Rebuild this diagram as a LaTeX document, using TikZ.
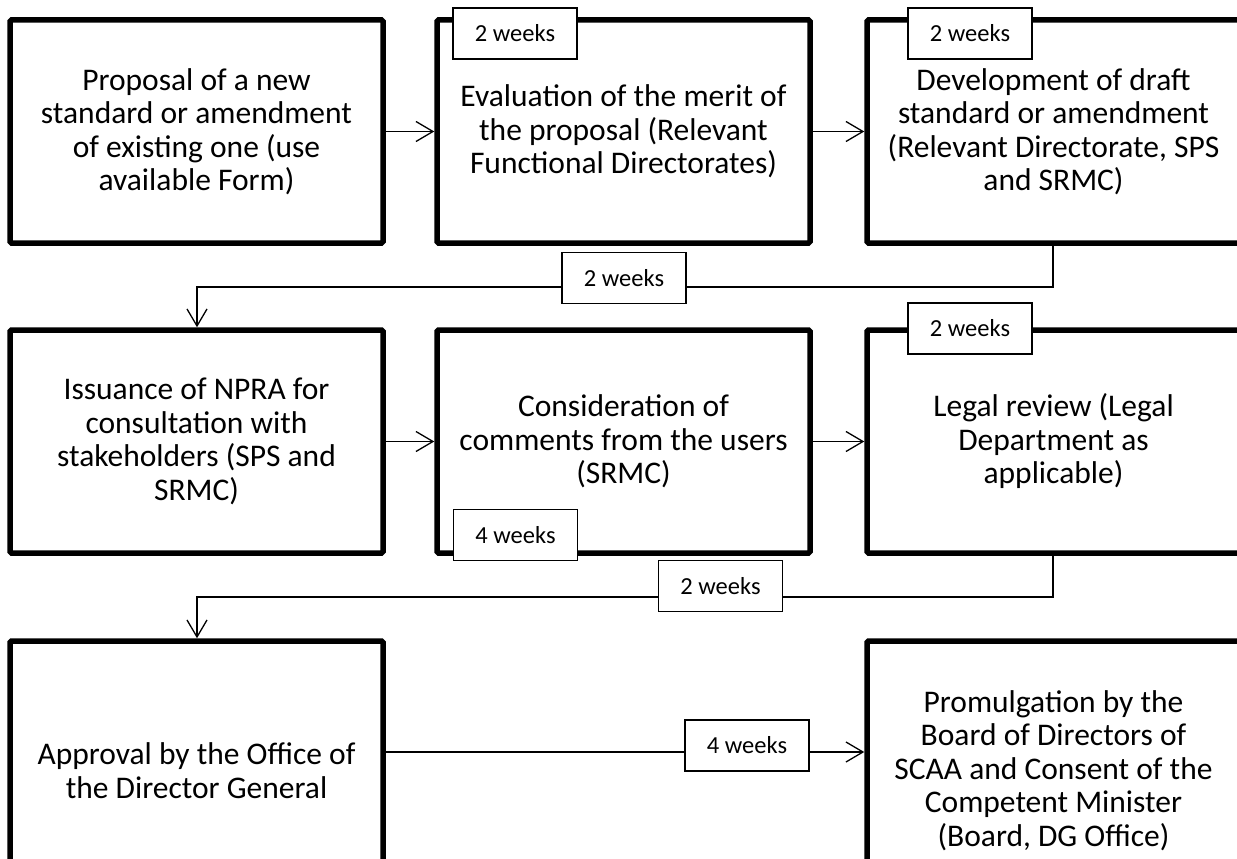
\documentclass[tikz,border=0pt]{standalone}
\usepackage{fontspec}
\setmainfont{Carlito}
\usetikzlibrary{arrows.meta}
\begin{document}
\begin{tikzpicture}[x=1pt,y=-1pt,
  stage/.style={draw, line width=5.5pt, minimum width=373pt, minimum height=223pt,
    inner sep=0pt, align=center, rounded corners=1.5pt,
    font=\fontsize{31.5}{33.5}\selectfont},
  tall/.style={stage, minimum height=259pt},
  conn/.style={line width=1.3pt},
  arr/.style={conn, -{Straight Barb[length=17pt,width=20pt]}},
  timer/.style={draw, fill=white, line width=1.3pt, minimum width=124pt,
    minimum height=51pt, inner sep=0pt, font=\fontsize{24.5}{28}\selectfont}
]
\useasboundingbox (0,0) rectangle (1237,859);

% stage boxes
\node[stage] (b1) at (196.5,131.5) {Proposal of a new\\standard or amendment\\of existing one (use\\available Form)};
\node[stage] (b2) at (623.5,131.5) {Evaluation of the merit of\\the proposal (Relevant\\Functional Directorates)};
\node[stage] (b3) at (1053.5,131.5) {Development of draft\\standard or amendment\\(Relevant Directorate, SPS\\and SRMC)};
\node[stage] (b4) at (196.5,441.5) {Issuance of NPRA for\\consultation with\\stakeholders (SPS and\\SRMC)};
\node[stage] (b5) at (623.5,441.5) {Consideration of\\comments from the users\\(SRMC)};
\node[stage] (b6) at (1053.5,441.5) {Legal review (Legal\\Department as\\applicable)};
\node[tall] (b7) at (196.5,770.5) {Approval by the Office of\\the Director General};
\node[tall] (b8) at (1053.5,770.5) {Promulgation by the\\Board of Directors of\\SCAA and Consent of the\\Competent Minister\\(Board, DG Office)};

% connectors
\draw[arr] (b1.east) -- (b2.west);
\draw[arr] (b2.east) -- (b3.west);
\coordinate (k1) at (1053,287);
\coordinate (k2) at (197,287);
\draw[arr] (b3.south -| k1) -- (k1) -- (k2) -- (b4.north -| k2);
\draw[arr] (b4.east) -- (b5.west);
\draw[arr] (b5.east) -- (b6.west);
\coordinate (k3) at (1053,597);
\coordinate (k4) at (197,597);
\draw[arr] (b6.south -| k3) -- (k3) -- (k4) -- (b7.north -| k4);
\coordinate (k5) at (0,752);
\draw[arr] (b7.east |- k5) -- (b8.west |- k5);

% duration labels
\node[timer] (t1) at (515,33.5) {2 weeks};
\node[timer] (t2) at (970,33.5) {2 weeks};
\node[timer] (l1) at (624,278) {2 weeks};
\node[timer] (t3) at (970,328.5) {2 weeks};
\node[timer] (t4) at (515.5,535) {4 weeks};
\node[timer] (l2) at (720.5,586) {2 weeks};
\node[timer] (l3) at (747,745.5) {4 weeks};
\end{tikzpicture}
\end{document}
